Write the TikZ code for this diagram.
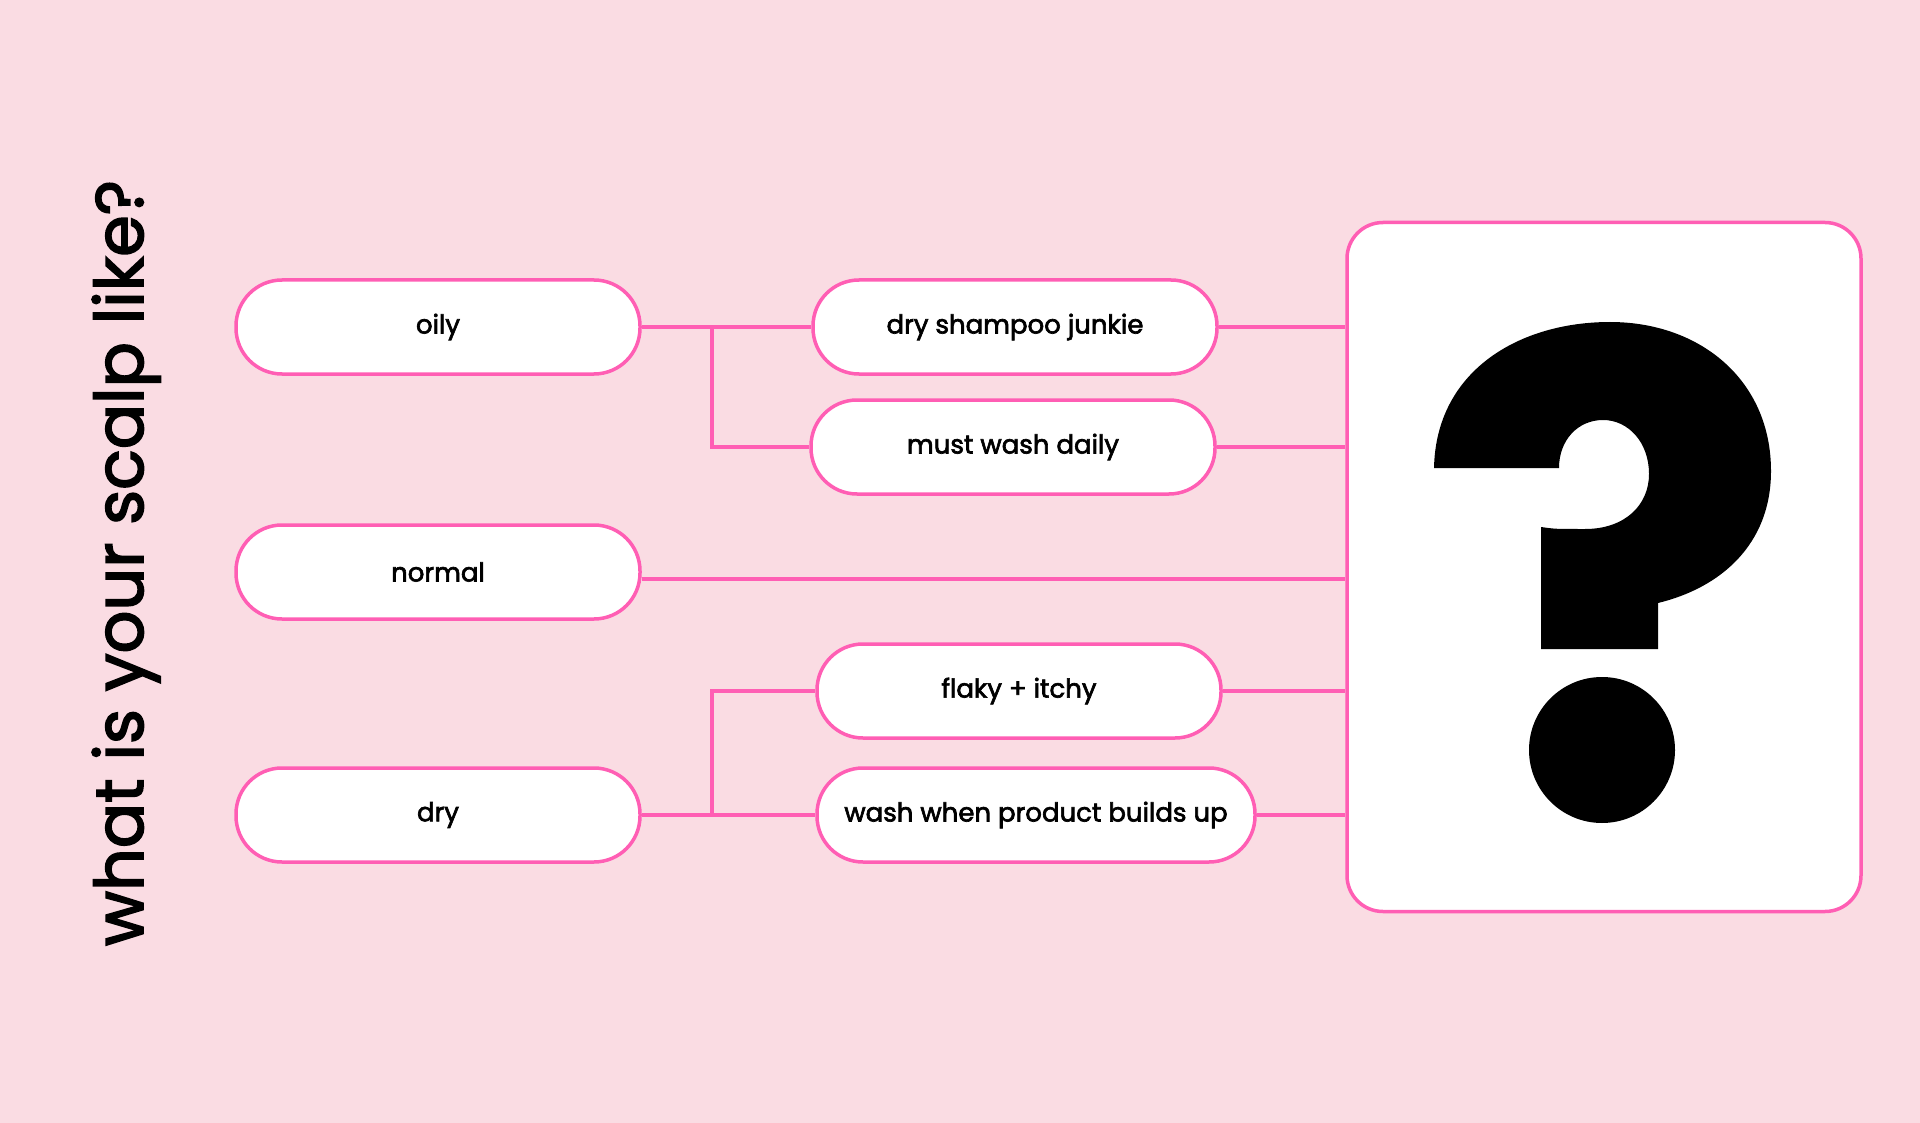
\documentclass[tikz,border=0pt]{standalone}
\usepackage{fontspec}
\setmainfont{Poppins}[FakeBold=2.5]
\definecolor{scalpbg}{HTML}{FADCE3}
\definecolor{hotpink}{HTML}{FF5EB4}
\tikzset{
    pill/.style={draw=hotpink, line width=3.5pt, fill=white, rounded corners=46pt,
        minimum width=404pt, minimum height=94pt, inner sep=0pt,
        font=\fontsize{26}{30}\selectfont},
    link/.style={draw=hotpink, line width=3.5pt}
}
\begin{document}
\begin{tikzpicture}[x=1pt, y=-1pt]
    % Scalp type flow
    \useasboundingbox[fill=scalpbg] (0,0) rectangle (1920,1123);
    \node[rotate=90, anchor=base, font=\fontsize{67}{72}\selectfont] (title) at (143,563) {what is your scalp like?};

    \node[pill] (oily) at (438,327) {oily};
    \node[pill] (normal) at (438,572) {normal};
    \node[pill] (dry) at (438,815) {dry};

    \node[pill] (junkie) at (1015,327) {dry shampoo junkie};
    \node[pill] (daily) at (1013,447) {must wash daily};
    \node[pill] (flaky) at (1019,691) {flaky + itchy};
    \node[pill, minimum width=438pt] (buildup) at (1036,815) {wash when product builds up};

    \node[draw=hotpink, line width=3.5pt, fill=white, rounded corners=36pt,
        minimum width=514pt, minimum height=689pt] (qbox) at (1604,567) {};

    % big question mark
    \fill (1434,468) .. controls (1436,370) and (1520,322) .. (1610,322)
        .. controls (1700,322) and (1771,380) .. (1771,471)
        .. controls (1771,545) and (1720,588) .. (1658,603)
        -- (1658,649) -- (1541,649) -- (1541,527)
        .. controls (1555,529) .. (1585,529)
        .. controls (1625,529) and (1649,505) .. (1649,474)
        .. controls (1649,442) and (1628,420) .. (1603,420)
        .. controls (1578,420) and (1559,440) .. (1559,468) -- cycle;
    \fill (1602,750) circle (73);

    \coordinate (oilyfork) at (712,327);
    \coordinate (dryfork) at (712,815);
    \draw[link] (oily.east) -- (junkie.west);
    \draw[link] (oilyfork) |- (daily.west);
    \draw[link] (dry.east) -- (buildup.west);
    \draw[link] (dryfork) |- (flaky.west);
    \draw[link] ([yshift=-7pt]normal.east) -- ([yshift=-7pt]normal.east -| qbox.west);
    \foreach \n in {junkie,daily,flaky,buildup}
        \draw[link] (\n.east) -- (\n.east -| qbox.west);
\end{tikzpicture}
\end{document}
